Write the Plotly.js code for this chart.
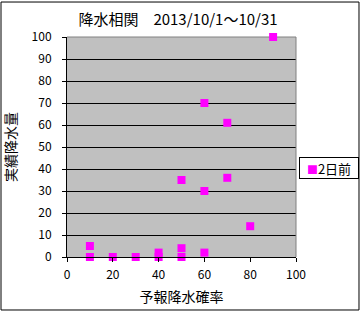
<!DOCTYPE html>
<html>
<head>
<meta charset="utf-8">
<script src="https://cdn.plot.ly/plotly-3.0.1.min.js"></script>
<style>html,body{margin:0;padding:0;background:#fff;}</style>
</head>
<body>
<div id="chart" style="width:364px;height:312px;"></div>
<script>
const chartTitle = "降水相関　2013/10/1～10/31";
const xTitle = "予報降水確率";
const yTitle = "実績降水量";
const seriesName = "2日前";
const forecastProb = [10, 10, 20, 30, 40, 40, 50, 50, 50, 60, 60, 60, 70, 70, 80, 90];
const actualRain   = [5, 0, 0, 0, 2, 0, 4, 0, 35, 70, 30, 2, 61, 36, 14, 100];
const xTicks = [0, 20, 40, 60, 80, 100];
const yTicks = [0, 10, 20, 30, 40, 50, 60, 70, 80, 90, 100];

const FONT = "'Noto Sans CJK JP', 'DejaVu Sans', sans-serif";
const markerColor = "#FF00FF";

const trace = {
  x: forecastProb,
  y: actualRain,
  name: seriesName,
  type: "scatter",
  mode: "markers",
  marker: {symbol: "square", size: 8, color: markerColor, line: {width: 0}},
  cliponaxis: false,
  hoverinfo: "x+y"
};

const layout = {
  width: 364,
  height: 312,
  margin: {l: 67, r: 68, t: 37, b: 55, pad: 0},
  paper_bgcolor: "#ffffff",
  plot_bgcolor: "#C0C0C0",
  showlegend: false,
  font: {family: FONT, size: 12, color: "#000"},
  title: {
    text: chartTitle,
    font: {family: FONT, size: 15, color: "#000"},
    x: 0.489, xref: "container", xanchor: "center",
    y: 0.936, yref: "container", yanchor: "middle"
  },
  xaxis: {
    range: [0, 100],
    tickvals: xTicks,
    ticktext: xTicks.map(String),
    showgrid: false,
    zeroline: false,
    showline: true,
    linecolor: "#000",
    linewidth: 1,
    ticks: "outside",
    ticklen: 4,
    tickcolor: "#000",
    ticklabelstandoff: 3,
    tickfont: {family: FONT, size: 12, color: "#000"},
    title: {text: xTitle, font: {family: FONT, size: 14, color: "#000"}, standoff: 10},
    fixedrange: true
  },
  yaxis: {
    range: [0, 100],
    tickvals: yTicks,
    ticktext: yTicks.map(String),
    showgrid: true,
    gridcolor: "#000",
    gridwidth: 1,
    zeroline: false,
    showline: true,
    linecolor: "#000",
    linewidth: 1,
    ticks: "outside",
    ticklen: 4,
    tickcolor: "#000",
    ticklabelstandoff: 8,
    tickfont: {family: FONT, size: 12, color: "#000"},
    title: {text: yTitle, font: {family: FONT, size: 14, color: "#000"}, standoff: 12},
    fixedrange: true
  },
  shapes: [
    {type: "rect", xref: "paper", yref: "paper",
     x0: -0.2882, x1: 1.2751, y0: -0.2409, y1: 1.159,
     line: {color: "#000", width: 1}, fillcolor: "rgba(0,0,0,0)", layer: "below"},
    {type: "line", xref: "paper", yref: "paper", x0: 0, x1: 1, y0: 1, y1: 1,
     line: {color: "#808080", width: 1}, layer: "below"},
    {type: "line", xref: "paper", yref: "paper", x0: 1, x1: 1, y0: 0, y1: 1,
     line: {color: "#808080", width: 1}, layer: "above"}
  ],
  annotations: [
    {xref: "paper", yref: "paper", x: 1.013, y: 0.4545, xanchor: "left", yanchor: "top",
     text: "<span style='color:" + markerColor + ";font-size:11px'>■</span>" + seriesName,
     showarrow: false, align: "center", width: 56, height: 18, valign: "middle",
     font: {family: FONT, size: 13, color: "#000"},
     bgcolor: "#fff", bordercolor: "#000", borderwidth: 1, borderpad: 1}
  ]
};

Plotly.newPlot("chart", [trace], layout, {displayModeBar: false, staticPlot: true});
</script>
</body>
</html>
